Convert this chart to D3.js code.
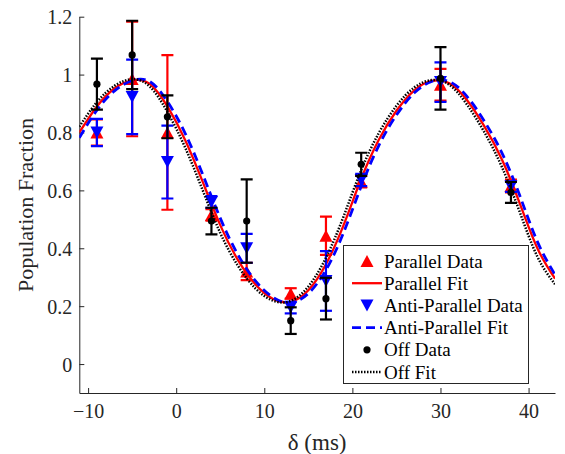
<!DOCTYPE html>
<html><head><meta charset="utf-8">
<script src="https://cdn.jsdelivr.net/npm/d3@7/dist/d3.min.js"></script>
<style>body{margin:0;background:#fff}svg{display:block}</style>
</head><body>
<svg id="c" width="565" height="454"></svg>
<script>
// Data
const delays = [-9, -5, -1, 4, 8, 13, 17, 21, 30, 38];
const parallelData = [0.80, 0.985, 0.80, 0.515, 0.32, 0.244, 0.443, 0.63, 0.965, 0.615];
const parallelErr  = [0.045, 0.198, 0.267, 0.02, 0.03, 0.018, 0.066, 0.02, 0.055, 0.022];
const antiData = [0.80, 0.923, 0.698, 0.56, 0.40, 0.195, 0.287, 0.636, 0.974, 0.613];
const antiErr  = [0.047, 0.129, 0.126, 0.02, 0.05, 0.02, 0.103, 0.021, 0.068, 0.018];
const offData = [0.967, 1.068, 0.854, 0.494, 0.494, 0.150, 0.226, 0.690, 0.987, 0.593];
const offErr  = [0.088, 0.118, 0.074, 0.046, 0.144, 0.046, 0.072, 0.04, 0.108, 0.036];

const fitX = [-11,-9,-7,-5,-3,-1,1,3,5,7,9,11,13,15,17,19,21,23,25,27,29,31,33,35,37,39,41,43];
const parallelFit = [0.80,0.89,0.952,0.98,0.968,0.89,0.775,0.63,0.48,0.36,0.275,0.225,0.215,0.255,0.345,0.48,0.64,0.775,0.875,0.945,0.978,0.97,0.912,0.82,0.705,0.555,0.40,0.295];
const antiFit = [0.782,0.877,0.944,0.979,0.976,0.907,0.798,0.656,0.504,0.378,0.287,0.23,0.212,0.244,0.325,0.454,0.614,0.755,0.86,0.936,0.976,0.976,0.925,0.838,0.728,0.582,0.423,0.309];
const offFit = [0.82,0.905,0.961,0.984,0.959,0.871,0.749,0.601,0.453,0.34,0.261,0.219,0.218,0.268,0.367,0.51,0.67,0.798,0.892,0.955,0.981,0.965,0.897,0.80,0.679,0.525,0.371,0.276];

const xTicks = [-10, 0, 10, 20, 30, 40];
const yTicks = [0, 0.2, 0.4, 0.6, 0.8, 1, 1.2];
const legendLabels = ["Parallel Data", "Parallel Fit", "Anti-Parallel Data", "Anti-Parallel Fit", "Off Data", "Off Fit"];

const svg = d3.select("#c");
const L = 79.3, R = 555, T = 16.7, B = 393;
const x = d3.scaleLinear().domain([-11, 43]).range([L, R]);
const y = d3.scaleLinear().domain([-0.1, 1.2]).range([B, T]);
const font = "'Liberation Serif','Times New Roman',serif";
const axisColor = "#262626";

svg.append("defs").append("clipPath").attr("id","clip")
  .append("rect").attr("x",L).attr("y",T-5).attr("width",R-L).attr("height",B-T+5);

// Axes
const xAxis = svg.append("g").attr("transform",`translate(0,${B})`)
  .call(d3.axisBottom(x).tickValues(xTicks).tickSizeInner(-5).tickSizeOuter(0).tickPadding(11).tickFormat(d3.format("d")));
const yAxis = svg.append("g").attr("transform",`translate(${L},0)`)
  .call(d3.axisLeft(y).tickValues(yTicks).tickSizeInner(-5).tickSizeOuter(0).tickPadding(7).tickFormat(d => d===0?"0":d===1?"1":d3.format(".1f")(d)));
[xAxis, yAxis].forEach(a => {
  a.select(".domain").attr("stroke", axisColor).attr("stroke-width", 1);
  a.selectAll(".tick line").attr("stroke", axisColor).attr("stroke-width", 1);
  a.selectAll(".tick text").attr("fill", axisColor).style("font-family", font).style("font-size", "20px");
});
xAxis.selectAll(".tick text").attr("dy", "0.71em");
yAxis.selectAll(".tick text").attr("dy", "0.35em");

svg.append("text").attr("x", (L+R)/2).attr("y", 450).attr("text-anchor","middle")
  .style("font-family", font).style("font-size","23px").attr("fill", axisColor).text("δ (ms)");
svg.append("text").attr("transform", `translate(33,205) rotate(-90)`).attr("text-anchor","middle")
  .style("font-family", font).style("font-size","22px").attr("fill", axisColor).text("Population Fraction");

const plot = svg.append("g").attr("clip-path","url(#clip)");

function triPath(up, w, h) {
  return up ? `M0,${-h/2}L${w/2},${h/2}L${-w/2},${h/2}Z` : `M0,${h/2}L${w/2},${-h/2}L${-w/2},${-h/2}Z`;
}

function errorBars(vals, errs, color) {
  const g = plot.append("g").attr("stroke", color).attr("stroke-width", 2.2).attr("fill","none");
  delays.forEach((d, i) => {
    const cx = x(d), y1 = y(vals[i]-errs[i]), y2 = y(vals[i]+errs[i]);
    g.append("line").attr("x1",cx).attr("x2",cx).attr("y1",y1).attr("y2",y2);
    g.append("line").attr("x1",cx-6).attr("x2",cx+6).attr("y1",y1).attr("y2",y1);
    g.append("line").attr("x1",cx-6).attr("x2",cx+6).attr("y1",y2).attr("y2",y2);
  });
}
const line = d3.line().x((d,i) => x(fitX[i])).y(d => y(d)).curve(d3.curveNatural);

// Parallel
errorBars(parallelData, parallelErr, "#ff0000");
plot.append("g").selectAll("path").data(parallelData).join("path")
  .attr("d", triPath(true, 13, 12)).attr("fill","#ff0000")
  .attr("transform",(d,i)=>`translate(${x(delays[i])},${y(d)})`);
plot.append("path").datum(parallelFit).attr("d", line).attr("fill","none").attr("stroke","#ff0000").attr("stroke-width",2.3);

// Anti-parallel
errorBars(antiData, antiErr, "#0000ff");
plot.append("g").selectAll("path").data(antiData).join("path")
  .attr("d", triPath(false, 13, 12)).attr("fill","#0000ff")
  .attr("transform",(d,i)=>`translate(${x(delays[i])},${y(d)})`);
plot.append("path").datum(antiFit).attr("d", line).attr("fill","none").attr("stroke","#0000ff").attr("stroke-width",2.8).attr("stroke-dasharray","9,5");

// Off
errorBars(offData, offErr, "#000000");
plot.append("g").selectAll("circle").data(offData).join("circle")
  .attr("cx",(d,i)=>x(delays[i])).attr("cy",d=>y(d)).attr("r",3.6).attr("fill","#000");
plot.append("path").datum(offFit).attr("d", line).attr("fill","none").attr("stroke","#000").attr("stroke-width",2.5).attr("stroke-dasharray","1.5,1.5");

// Legend
const lg = svg.append("g");
lg.append("rect").attr("x",343.5).attr("y",245.5).attr("width",185).attr("height",138).attr("fill","#fff").attr("stroke",axisColor).attr("stroke-width",1);
const rowY = i => 261 + i*22.2;
const sx1 = 352, sx2 = 382, smid = 367;
lg.append("path").attr("d", triPath(true,13,12)).attr("fill","#ff0000").attr("transform",`translate(${smid},${rowY(0)})`);
lg.append("line").attr("x1",sx1).attr("x2",sx2).attr("y1",rowY(1)).attr("y2",rowY(1)).attr("stroke","#ff0000").attr("stroke-width",2.3);
lg.append("path").attr("d", triPath(false,13,12)).attr("fill","#0000ff").attr("transform",`translate(${smid},${rowY(2)})`);
lg.append("line").attr("x1",sx1).attr("x2",sx2).attr("y1",rowY(3)).attr("y2",rowY(3)).attr("stroke","#0000ff").attr("stroke-width",2.8).attr("stroke-dasharray","9,5");
lg.append("circle").attr("cx",smid).attr("cy",rowY(4)).attr("r",3.6).attr("fill","#000");
lg.append("line").attr("x1",sx1).attr("x2",sx2).attr("y1",rowY(5)).attr("y2",rowY(5)).attr("stroke","#000").attr("stroke-width",2.5).attr("stroke-dasharray","1.5,1.5");
lg.selectAll("text.lbl").data(legendLabels).join("text").attr("class","lbl")
  .attr("x",384).attr("y",(d,i)=>rowY(i)).attr("dy","0.35em")
  .style("font-family",font).style("font-size","19px").attr("fill","#000").text(d=>d);
</script>
</body></html>
